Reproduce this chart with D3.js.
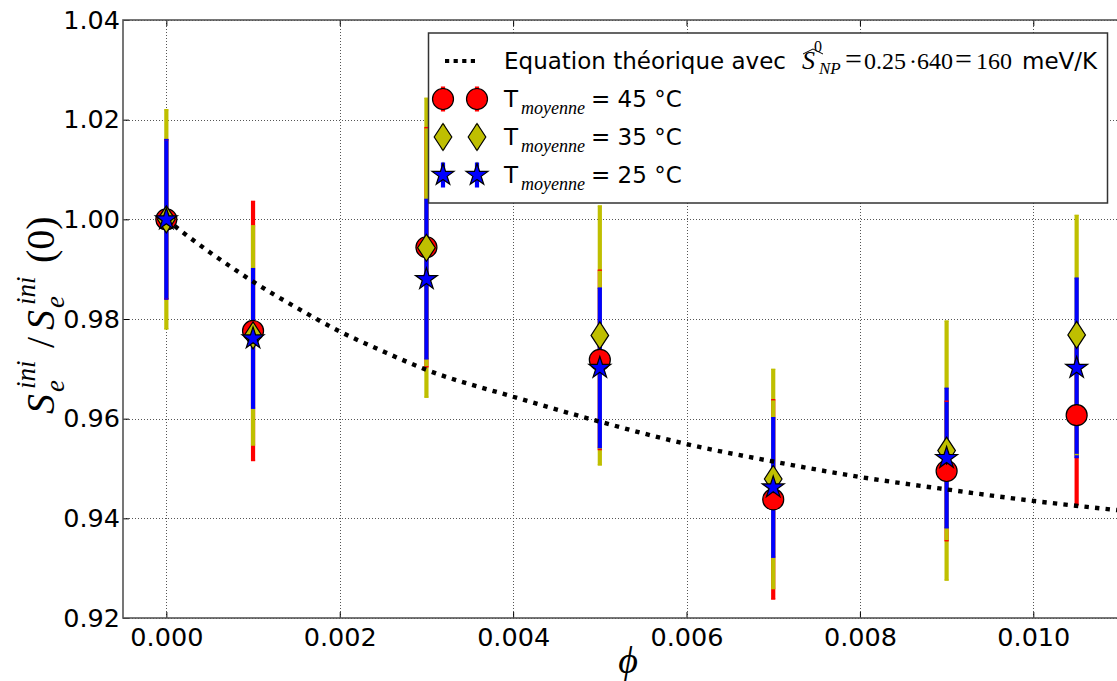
<!DOCTYPE html>
<html><head><meta charset="utf-8">
<script src="https://cdn.jsdelivr.net/npm/d3@7"></script>
<style>body{margin:0;background:#fff}svg{display:block}</style>
</head><body>
<svg id="c" width="1117" height="681"></svg>
<script>
// ---------- data ----------
const phi = [0, 0.001, 0.003, 0.005, 0.007, 0.009, 0.0105];
const t45 = [1.000, 0.9776, 0.9944, 0.9718, 0.9438, 0.9495, 0.9607];
const t45err = [0.016, 0.026, 0.024, 0.018, 0.020, 0.014, 0.018];
const t35 = [1.000, 0.9767, 0.9943, 0.9767, 0.9479, 0.9536, 0.9768];
const t35err = [0.022, 0.022, 0.030, 0.026, 0.022, 0.026, 0.024];
const t25 = [1.000, 0.9761, 0.9880, 0.9702, 0.9462, 0.9521, 0.9702];
const t25err = [0.016, 0.014, 0.016, 0.016, 0.014, 0.014, 0.018];
const curvePhi = [0, 0.00025, 0.0005, 0.00075, 0.001, 0.0015, 0.002, 0.0025, 0.003, 0.004, 0.005, 0.006, 0.007, 0.008, 0.009, 0.010, 0.011];
const curveVal = [1.0, 0.9966, 0.9934, 0.9904, 0.9875, 0.9823, 0.9775, 0.9735, 0.9698, 0.9644, 0.9594, 0.9549, 0.9514, 0.9483, 0.9458, 0.9435, 0.9416];
const xTicks = [0, 0.002, 0.004, 0.006, 0.008, 0.010];
const xTickLabels = ["0.000", "0.002", "0.004", "0.006", "0.008", "0.010"];
const yTicks = [0.92, 0.94, 0.96, 0.98, 1.00, 1.02, 1.04];
const yTickLabels = ["0.92", "0.94", "0.96", "0.98", "1.00", "1.02", "1.04"];
const seriesNames = ["45 °C", "35 °C", "25 °C"];
const seriesColors = ["#ff0000", "#bfbf00", "#0000ff"];
const seriesShapes = ["circle", "diamond", "star"];

const series = [
  {vals: t45, errs: t45err, name: seriesNames[0], color: seriesColors[0], shape: seriesShapes[0]},
  {vals: t35, errs: t35err, name: seriesNames[1], color: seriesColors[1], shape: seriesShapes[1]},
  {vals: t25, errs: t25err, name: seriesNames[2], color: seriesColors[2], shape: seriesShapes[2]}
];

// ---------- layout ----------
const svg = d3.select("#c");
const L = 123, R = 1120, T = 20, B = 618;
const x = d3.scaleLinear().domain([-0.0005, 0.011]).range([L, R]);
const y = d3.scaleLinear().domain([0.92, 1.04]).range([B, T]);

svg.append("defs").append("clipPath").attr("id", "clip")
  .append("rect").attr("x", L).attr("y", T).attr("width", R - L).attr("height", B - T);

// grid
const grid = svg.append("g").attr("stroke", "#555").attr("stroke-width", 1).attr("stroke-dasharray", "1,2");
grid.selectAll(".gx").data(xTicks).join("line")
  .attr("x1", d => Math.round(x(d)) + 0.5).attr("x2", d => Math.round(x(d)) + 0.5)
  .attr("y1", T).attr("y2", B);
grid.selectAll(".gy").data(yTicks).join("line")
  .attr("y1", d => Math.round(y(d)) + 0.5).attr("y2", d => Math.round(y(d)) + 0.5)
  .attr("x1", L).attr("x2", R);

// axes (inward ticks)
function styleAxis(g) {
  g.select(".domain").remove();
  g.selectAll(".tick line").attr("stroke", "#000").attr("stroke-width", 1);
  g.selectAll("text").attr("font-family", "DejaVu Sans").attr("font-size", 25.5).attr("fill", "#000");
}
svg.append("g").attr("transform", `translate(0,${B})`)
  .call(d3.axisBottom(x).tickValues(xTicks).tickFormat((d, i) => xTickLabels[i]).tickSizeInner(-6).tickPadding(10))
  .call(styleAxis)
  .selectAll("text").attr("dy", "0.71em");
svg.append("g").attr("transform", `translate(0,${T})`)
  .call(d3.axisTop(x).tickValues(xTicks).tickFormat("").tickSizeInner(-6))
  .call(styleAxis);
svg.append("g").attr("transform", `translate(${L},0)`)
  .call(d3.axisLeft(y).tickValues(yTicks).tickFormat((d, i) => yTickLabels[i]).tickSizeInner(-6).tickPadding(3))
  .call(styleAxis);

// frame
svg.append("rect").attr("x", L).attr("y", T).attr("width", R - L).attr("height", B - T)
  .attr("fill", "none").attr("stroke", "#555").attr("stroke-width", 1.6);

// error bars
const plot = svg.append("g").attr("clip-path", "url(#clip)");
series.forEach(s => {
  plot.append("g").selectAll("line").data(phi).join("line")
    .attr("x1", d => x(d)).attr("x2", d => x(d))
    .attr("y1", (d, i) => y(s.vals[i] - s.errs[i]))
    .attr("y2", (d, i) => y(s.vals[i] + s.errs[i]))
    .attr("stroke", s.color).attr("stroke-width", 4.2);
});
// caps
series.forEach(s => {
  const g = plot.append("g");
  [-1, 1].forEach(sg => {
    g.selectAll(null).data(phi).join("line")
      .attr("x1", d => x(d) - 2.1).attr("x2", d => x(d) + 2.1)
      .attr("y1", (d, i) => y(s.vals[i] + sg * s.errs[i]))
      .attr("y2", (d, i) => y(s.vals[i] + sg * s.errs[i]))
      .attr("stroke", s.color).attr("stroke-width", 1.4);
  });
});

// theoretical curve
const line = d3.line().x(d => x(d[0])).y(d => y(d[1])).curve(d3.curveMonotoneX);
plot.append("path").datum(curvePhi.map((p, i) => [p, curveVal[i]]))
  .attr("d", line).attr("fill", "none").attr("stroke", "#000")
  .attr("stroke-width", 4.4).attr("stroke-dasharray", "4.4,6.2");

// markers
function starPath(Ro) {
  const ri = Ro * 0.382;
  const pts = [];
  for (let k = 0; k < 10; k++) {
    const a = -Math.PI / 2 + k * Math.PI / 5;
    const r = k % 2 === 0 ? Ro : ri;
    pts.push([r * Math.cos(a), r * Math.sin(a)]);
  }
  return "M" + pts.map(p => p[0].toFixed(2) + "," + p[1].toFixed(2)).join("L") + "Z";
}
const shapePath = {
  circle: d3.arc()({innerRadius: 0, outerRadius: 10.5, startAngle: 0, endAngle: 2 * Math.PI}),
  diamond: "M0,-13.5L8.8,0L0,13.5L-8.8,0Z",
  star: starPath(11.5)
};
series.forEach(s => {
  plot.append("g").selectAll("path").data(phi).join("path")
    .attr("transform", (d, i) => `translate(${x(d)},${y(s.vals[i])})`)
    .attr("d", shapePath[s.shape])
    .attr("fill", s.color).attr("stroke", "#000").attr("stroke-width", 1.2);
});

// legend
const lg = svg.append("g");
lg.append("rect").attr("x", 428.5).attr("y", 33).attr("width", 679).attr("height", 170)
  .attr("fill", "#fff").attr("stroke", "#333").attr("stroke-width", 1.5);
const rows = [61, 99, 137, 175];
lg.append("line").attr("x1", 445).attr("x2", 478).attr("y1", rows[0]).attr("y2", rows[0])
  .attr("stroke", "#000").attr("stroke-width", 4.2).attr("stroke-dasharray", "4.2,4.4");
const t1 = lg.append("text").attr("y", rows[0] + 8).attr("font-family", "DejaVu Sans").attr("font-size", 23);
t1.append("tspan").attr("x", 504).text("Equation théorique avec");
const mth = lg.append("g").attr("font-family", "Liberation Serif").attr("font-size", 24);
const base = rows[0] + 8;
mth.append("text").attr("x", 802).attr("y", base).attr("font-style", "italic").attr("font-size", 26).text("S");
mth.append("path").attr("d", `M803,${rows[0] - 7}L813,${rows[0] - 12}L823,${rows[0] - 7}`)
  .attr("fill", "none").attr("stroke", "#000").attr("stroke-width", 1);
mth.append("text").attr("x", 814).attr("y", rows[0] - 9).attr("font-size", 16).text("0");
mth.append("text").attr("x", 819).attr("y", rows[0] + 13).attr("font-size", 17).attr("font-style", "italic").text("NP");
mth.append("text").attr("x", 845).attr("y", base).attr("font-size", 30).text("=");
mth.append("text").attr("x", 864).attr("y", base).text("0.25");
mth.append("text").attr("x", 909).attr("y", base).text("·");
mth.append("text").attr("x", 917).attr("y", base).text("640");
mth.append("text").attr("x", 955).attr("y", base).attr("font-size", 30).text("=");
mth.append("text").attr("x", 976).attr("y", base).text("160");
lg.append("text").attr("x", 1022).attr("y", base).attr("font-family", "DejaVu Sans").attr("font-size", 23).text("meV/K");

series.forEach((s, k) => {
  const ry = rows[k + 1];
  [443, 477].forEach(cx => {
    lg.append("line").attr("x1", cx).attr("x2", cx).attr("y1", ry - 12.5).attr("y2", ry + 12.5)
      .attr("stroke", s.color).attr("stroke-width", 4.2);
    lg.append("path").attr("transform", `translate(${cx},${ry})`).attr("d", shapePath[s.shape])
      .attr("fill", s.color).attr("stroke", "#000").attr("stroke-width", 1.2);
  });
  const tx = lg.append("text").attr("y", ry + 8).attr("font-family", "DejaVu Sans").attr("font-size", 23);
  tx.append("tspan").attr("x", 504).text("T");
  tx.append("tspan").attr("x", 521).attr("dy", 7).attr("font-family", "Liberation Serif")
    .attr("font-style", "italic").attr("font-size", 18).text("moyenne");
  tx.append("tspan").attr("x", 591).attr("dy", -7).text("= " + s.name);
});

// y-axis label (rotated)
const yl = svg.append("g").attr("transform", "translate(54,414) rotate(-90)")
  .attr("font-family", "Liberation Serif").attr("fill", "#000");
const yParts = [
  {t: "S", u: 0, v: 0, fs: 40, it: true},
  {t: "ini", u: 25, v: -19, fs: 27, it: true},
  {t: "e", u: 22, v: 10, fs: 27, it: true},
  {t: "/", u: 66, v: 0, fs: 40, it: false},
  {t: "S", u: 84, v: 0, fs: 40, it: true},
  {t: "ini", u: 109, v: -19, fs: 27, it: true},
  {t: "e", u: 106, v: 10, fs: 27, it: true},
  {t: "(0)", u: 151, v: 0, fs: 40, it: false}
];
yParts.forEach(p => {
  yl.append("text").attr("x", p.u).attr("y", p.v).attr("font-size", p.fs)
    .attr("font-style", p.it ? "italic" : "normal").text(p.t);
});

// x-axis label
svg.append("text").attr("x", 628).attr("y", 673).attr("text-anchor", "middle")
  .attr("font-family", "Liberation Serif").attr("font-style", "italic").attr("font-size", 38).text("ϕ");
</script>
</body></html>
